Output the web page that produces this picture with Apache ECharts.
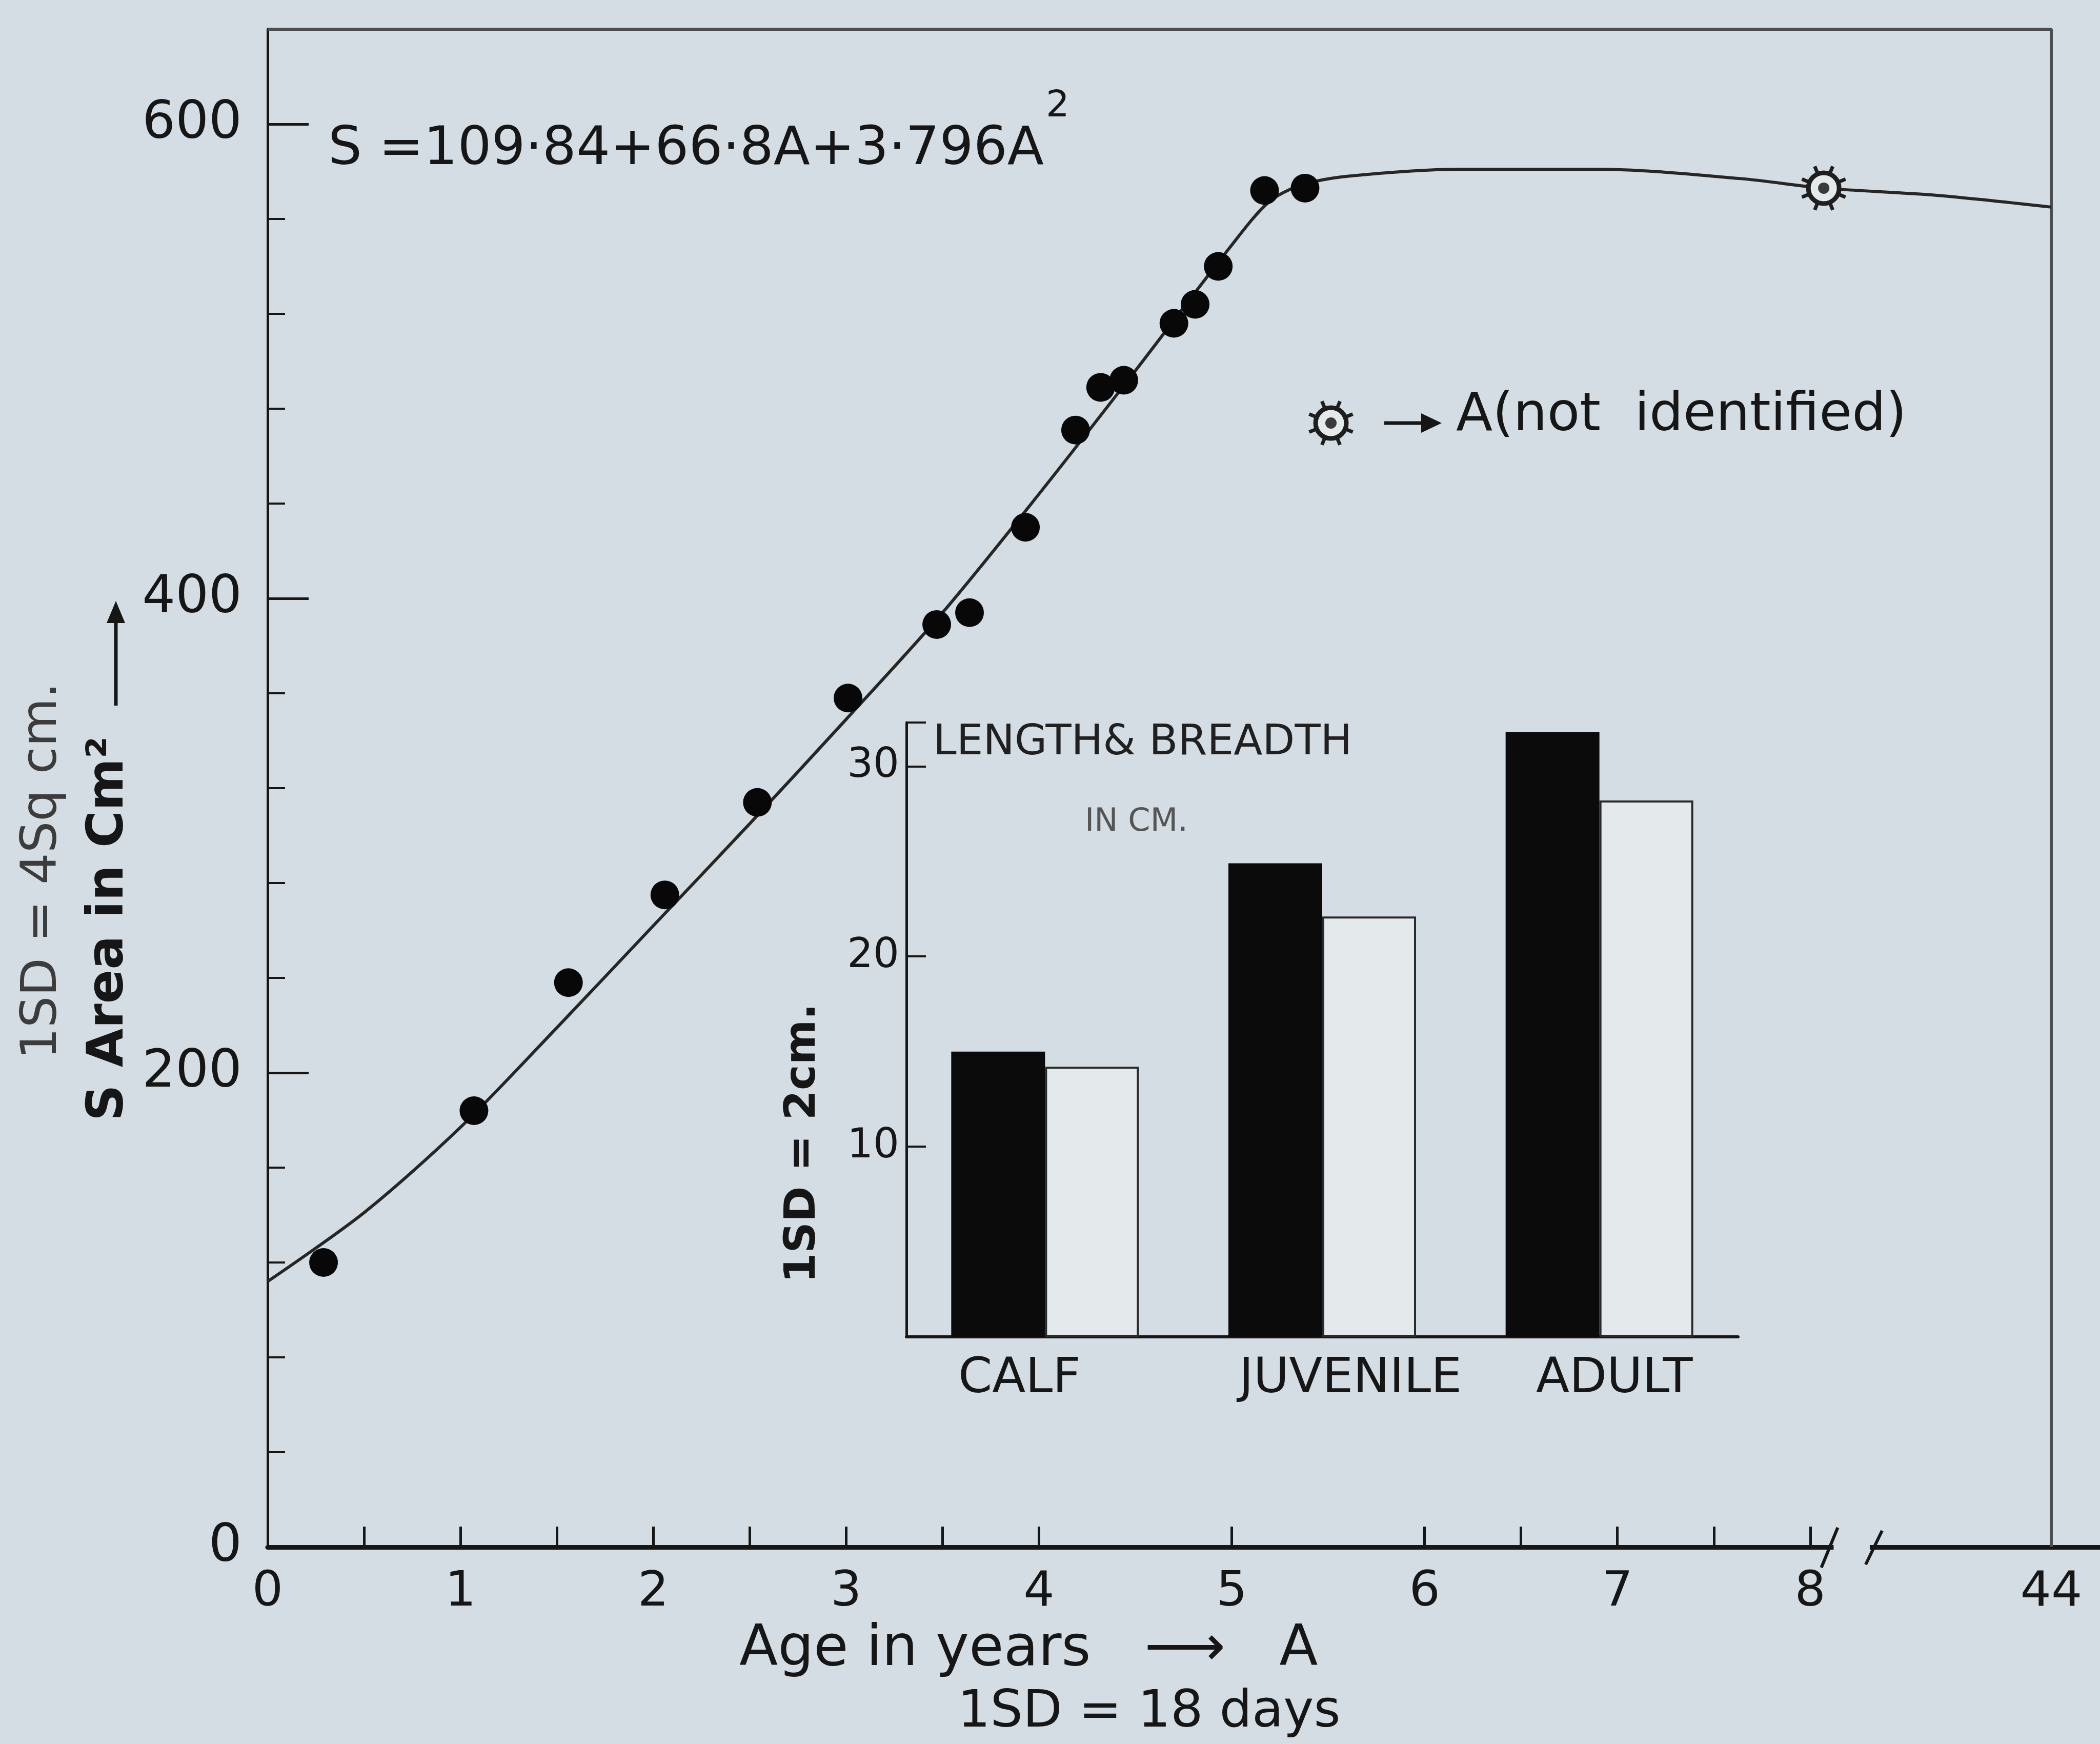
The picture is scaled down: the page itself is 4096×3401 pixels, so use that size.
<!DOCTYPE html>
<html>
<head>
<meta charset="utf-8">
<title>Surface area against age</title>
<script src="https://cdn.jsdelivr.net/npm/echarts@6/dist/echarts.min.js"></script>
<style>
  html, body { margin: 0; padding: 0; background: #d4dde3; }
  #chart { width: 4096px; height: 3401px; }
</style>
</head>
<body>
<div id="chart"></div>
<script>
// observed points: age A (years) and surface area S (cm2)
var ageYears = [0.29, 1.07, 1.56, 2.06, 2.54, 3.01, 3.47, 3.64, 3.93, 4.19, 4.32, 4.44, 4.70, 4.81, 4.93, 5.17, 5.38];
var surfaceArea = [120, 184, 238, 275, 314, 358, 389, 394, 430, 471, 489, 492, 516, 524, 540, 572, 573];

// fitted curve as drawn (S = 109.84 + 66.8A + 3.796A^2, then levelling off)
var curveAge = [0, 0.5, 1, 1.5, 2, 2.5, 3, 3.5, 4, 4.5, 5, 5.19, 5.35, 5.6, 6.2, 6.9, 7.64, 8.07, 8.65, 9.25];
var curveArea = [112, 141, 177, 219, 262, 305, 349, 394, 444, 496, 549, 567, 574, 578, 581, 581, 577, 573, 570, 565];

// the point marked "A (not identified)"
var unknownAge = [8.07];
var unknownArea = [573];

// x axis: ticks, labels (the last one stands for 44 years, after the break)
var xTickValues = [0.5, 1, 1.5, 2, 2.5, 3, 3.5, 4, 5, 6, 6.5, 7, 7.5, 8];
var xLabelValues = [0, 1, 2, 3, 4, 5, 6, 7, 8, 9.25];
var xLabelText = ['0', '1', '2', '3', '4', '5', '6', '7', '8', '44'];
var axisBreak = [8.1, 8.33];
var yMajorTicks = [200, 400, 600];

// inset: length and breadth in cm
var stages = ['CALF', 'JUVENILE', 'ADULT'];
var lengthCm = [15.0, 24.9, 31.8];
var breadthCm = [14.2, 22.1, 28.2];

var BG = '#d4dde3';
var INK = '#161616';
var FONT = 'DejaVu Sans';

function pairs(xs, ys) {
  return xs.map(function (x, i) { return [x, ys[i]]; });
}

// ring with little spikes and a dot in the middle
function sunGlyph(cx, cy, s) {
  var parts = [];
  for (var i = 0; i < 8; i++) {
    var a = i * Math.PI / 4 + Math.PI / 8;
    parts.push({
      type: 'line',
      shape: { x1: cx + Math.cos(a) * 33 * s, y1: cy + Math.sin(a) * 33 * s,
               x2: cx + Math.cos(a) * 46 * s, y2: cy + Math.sin(a) * 46 * s },
      style: { stroke: '#1e1e1e', lineWidth: 7 * s }
    });
  }
  parts.push({ type: 'circle', shape: { cx: cx, cy: cy, r: 30 * s },
    style: { fill: '#e4e9ec', stroke: '#1e1e1e', lineWidth: 9 * s } });
  parts.push({ type: 'circle', shape: { cx: cx, cy: cy, r: 11 * s },
    style: { fill: '#3a3a3a' } });
  return parts;
}

var chart = echarts.init(document.getElementById('chart'));

var option = {
  backgroundColor: BG,
  animation: false,
  textStyle: { fontFamily: FONT },
  grid: [
    { left: 522, top: 57, width: 3573, height: 2960, outerBoundsMode: 'none' },
    { left: 1768, top: 1409, width: 1622, height: 1198, outerBoundsMode: 'none' }
  ],
  xAxis: [
    {
      type: 'value', gridIndex: 0, min: 0, max: 9.5,
      axisLine: { show: true, lineStyle: { color: INK, width: 9 } },
      axisTick: { show: true, inside: true, length: 40, customValues: xTickValues,
        lineStyle: { color: INK, width: 5 } },
      axisLabel: {
        customValues: xLabelValues,
        formatter: function (v) {
          var i = xLabelValues.indexOf(v);
          return i >= 0 ? xLabelText[i] : '';
        },
        fontSize: 95, color: INK, margin: 42, fontFamily: FONT
      },
      splitLine: { show: false }
    },
    {
      type: 'category', gridIndex: 1, data: stages,
      axisLine: { show: true, lineStyle: { color: INK, width: 6 } },
      axisTick: { show: false },
      axisLabel: {
        interval: 0, margin: 36,
        formatter: function (v, i) { return '{s' + i + '|' + v + '}'; },
        rich: {
          s0: { fontSize: 95, color: INK, fontFamily: FONT, padding: [0, 100, 0, 0] },
          s1: { fontSize: 95, color: INK, fontFamily: FONT, padding: [0, 0, 0, 110] },
          s2: { fontSize: 95, color: INK, fontFamily: FONT, padding: [0, 0, 0, 58] }
        }
      },
      splitLine: { show: false }
    }
  ],
  yAxis: [
    {
      type: 'value', gridIndex: 0, position: 'left', min: 0, max: 640, interval: 40,
      axisLine: { show: true, lineStyle: { color: INK, width: 5 } },
      axisTick: { show: true, inside: true, length: 34, lineStyle: { color: INK, width: 4 } },
      axisLabel: {
        formatter: function (v) { return (v % 200 === 0 && v <= 600) ? String(v) : ''; },
        fontSize: 102, color: INK, margin: 50, fontFamily: FONT
      },
      splitLine: { show: false }
    },
    {
      // longer ticks at the labelled values
      type: 'value', gridIndex: 0, position: 'left', offset: 0, min: 0, max: 640,
      axisLine: { show: false },
      axisTick: { show: true, inside: true, length: 80, customValues: yMajorTicks,
        lineStyle: { color: INK, width: 5 } },
      axisLabel: { show: false },
      splitLine: { show: false }
    },
    {
      type: 'value', gridIndex: 1, position: 'left', min: 0, max: 32.3, interval: 10,
      axisLine: { show: true, lineStyle: { color: INK, width: 5 } },
      axisTick: { show: true, inside: true, length: 38, lineStyle: { color: INK, width: 4 } },
      axisLabel: {
        formatter: function (v) { return (v === 10 || v === 20 || v === 30) ? String(v) : ''; },
        fontSize: 80, color: INK, margin: 14, fontFamily: FONT
      },
      splitLine: { show: false }
    }
  ],
  series: [
    {
      name: 'Frame', type: 'line', xAxisIndex: 0, yAxisIndex: 0,
      data: [[0, 640], [9.25, 640], [9.25, 0]],
      showSymbol: false, silent: true, z: 1,
      lineStyle: { color: '#4d4d4d', width: 6 }
    },
    {
      name: 'Fitted curve', type: 'line', xAxisIndex: 0, yAxisIndex: 0,
      data: pairs(curveAge, curveArea),
      showSymbol: false, silent: true, smooth: 0.3, z: 3,
      lineStyle: { color: '#262626', width: 6 }
    },
    {
      name: 'Observed', type: 'scatter', xAxisIndex: 0, yAxisIndex: 0,
      data: pairs(ageYears, surfaceArea),
      symbolSize: 56, z: 4,
      itemStyle: { color: '#080808', opacity: 1 }
    },
    {
      name: 'A (not identified)', type: 'custom', xAxisIndex: 0, yAxisIndex: 0,
      data: pairs(unknownAge, unknownArea), z: 5,
      renderItem: function (params, api) {
        var p = api.coord([api.value(0), api.value(1)]);
        return { type: 'group', children: sunGlyph(p[0], p[1], 1) };
      }
    },
    {
      name: 'Axis break', type: 'custom', xAxisIndex: 0, yAxisIndex: 0,
      data: [[axisBreak[0], axisBreak[1], 0]],
      encode: { x: [0, 1], y: 2 }, silent: true, z: 6,
      renderItem: function (params, api) {
        var a = api.coord([api.value(0), api.value(2)]);
        var b = api.coord([api.value(1), api.value(2)]);
        return {
          type: 'group',
          children: [
            { type: 'rect', shape: { x: a[0] + 8, y: a[1] - 10, width: b[0] - a[0] - 16, height: 20 },
              style: { fill: BG } },
            { type: 'line', shape: { x1: a[0] + 16, y1: a[1] - 38, x2: a[0] - 16, y2: a[1] + 40 },
              style: { stroke: INK, lineWidth: 6 } },
            { type: 'line', shape: { x1: b[0] + 16, y1: b[1] - 32, x2: b[0] - 16, y2: b[1] + 34 },
              style: { stroke: INK, lineWidth: 6 } }
          ]
        };
      }
    },
    {
      name: 'Length', type: 'bar', xAxisIndex: 1, yAxisIndex: 2,
      data: lengthCm, barWidth: 183, barGap: '0%',
      itemStyle: { color: '#0b0b0b' }
    },
    {
      name: 'Breadth', type: 'bar', xAxisIndex: 1, yAxisIndex: 2,
      data: breadthCm, barWidth: 183, barGap: '0%',
      itemStyle: { color: '#e4e9ec', borderColor: '#2a2a2a', borderWidth: 4 }
    }
  ],
  graphic: [
    // equation with the squared sign
    {
      type: 'text', x: 640, y: 293,
      style: {
        text: '{m|S =109·84+66·8A+3·796A}{s|2}',
        align: 'left', verticalAlign: 'middle',
        rich: {
          m: { fontSize: 104, fontFamily: FONT, fill: INK },
          s: { fontSize: 72, fontFamily: FONT, fill: INK, padding: [0, 0, 170, 4] }
        }
      }
    },
    // key for the special symbol
    { type: 'group', x: 2596, y: 825, children: sunGlyph(0, 0, 1) },
    { type: 'line', shape: { x1: 2700, y1: 825, x2: 2782, y2: 825 }, style: { stroke: INK, lineWidth: 7 } },
    { type: 'polygon', shape: { points: [[2772, 806], [2812, 825], [2772, 844]] }, style: { fill: INK } },
    {
      type: 'text', x: 2840, y: 812,
      style: { text: 'A(not  identified)', fontSize: 104, fontFamily: FONT, fill: INK,
        align: 'left', verticalAlign: 'middle' }
    },
    // y axis title, two rotated lines, and its arrow
    {
      type: 'text', x: 214, y: 2186, rotation: Math.PI / 2,
      style: { text: 'S Area in Cm²', fontSize: 98, fontWeight: 'bold', fontFamily: FONT,
        fill: INK, align: 'left', verticalAlign: 'middle' }
    },
    { type: 'line', shape: { x1: 226, y1: 1376, x2: 226, y2: 1205 }, style: { stroke: INK, lineWidth: 7 } },
    { type: 'polygon', shape: { points: [[208, 1215], [226, 1172], [244, 1215]] }, style: { fill: INK } },
    {
      type: 'text', x: 84, y: 2066, rotation: Math.PI / 2,
      style: { text: '1SD = 4Sq cm.', fontSize: 97, fontFamily: FONT,
        fill: '#3c3c3c', align: 'left', verticalAlign: 'middle' }
    },
    // x axis title
    {
      type: 'text', x: 1442, y: 3218,
      style: { text: 'Age in years   ⟶   A', fontSize: 110, fontFamily: FONT, fill: INK,
        align: 'left', verticalAlign: 'middle' }
    },
    {
      type: 'text', x: 1868, y: 3341,
      style: { text: '1SD = 18 days', fontSize: 100, fontFamily: FONT, fill: INK,
        align: 'left', verticalAlign: 'middle' }
    },
    // inset titles
    {
      type: 'text', x: 1820, y: 1450,
      style: { text: 'LENGTH& BREADTH', fontSize: 82, fontFamily: FONT, fill: '#202020',
        align: 'left', verticalAlign: 'middle' }
    },
    {
      type: 'text', x: 2116, y: 1604,
      style: { text: 'IN CM.', fontSize: 62, fontFamily: FONT, fill: '#555555',
        align: 'left', verticalAlign: 'middle' }
    },
    {
      type: 'text', x: 1567, y: 2502, rotation: Math.PI / 2,
      style: { text: '1SD = 2cm.', fontSize: 84, fontWeight: 'bold', fontFamily: FONT,
        fill: INK, align: 'left', verticalAlign: 'middle' }
    }
  ]
};

chart.setOption(option);
</script>
</body>
</html>
